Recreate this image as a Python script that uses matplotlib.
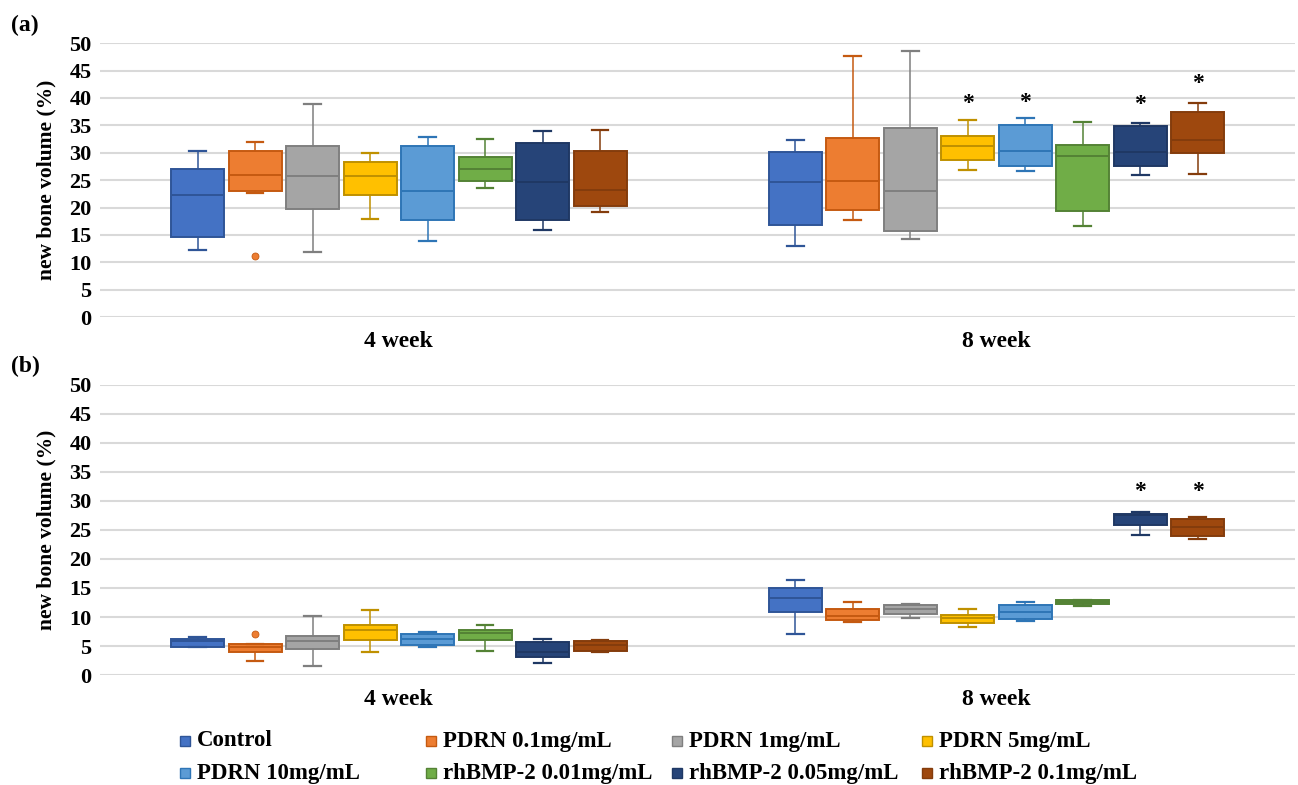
import matplotlib.pyplot as plt
from matplotlib.lines import Line2D

GROUPS = ["Control", "PDRN 0.1mg/mL", "PDRN 1mg/mL", "PDRN 5mg/mL",
          "PDRN 10mg/mL", "rhBMP-2 0.01mg/mL", "rhBMP-2 0.05mg/mL", "rhBMP-2 0.1mg/mL"]
WEEKS = ["4 week", "8 week"]

FACE = ["#4472C4", "#ED7D31", "#A5A5A5", "#FFC000",
        "#5B9BD5", "#70AD47", "#264478", "#9E480E"]
EDGE = ["#2F5597", "#C55A11", "#7F7F7F", "#BF9000",
        "#2E75B6", "#548235", "#1F3864", "#843C0C"]

# panel (a): rows = 4 week, 8 week
A_LOW = [[12.3, 22.6, 11.9, 18.0, 13.9, 23.5, 15.9, 19.1],
         [13.0, 17.7, 14.3, 26.8, 26.6, 16.7, 25.9, 26.1]]
A_Q1 = [[14.6, 23.0, 19.7, 22.2, 17.7, 24.8, 17.7, 20.2],
        [16.8, 19.5, 15.7, 28.6, 27.6, 19.3, 27.5, 29.9]]
A_MED = [[22.2, 26.0, 25.7, 25.7, 23.0, 27.0, 24.6, 23.2],
         [24.7, 24.8, 23.0, 31.3, 30.4, 29.5, 30.2, 32.4]]
A_Q3 = [[27.0, 30.4, 31.3, 28.4, 31.2, 29.3, 31.8, 30.4],
        [30.1, 32.7, 34.5, 33.0, 35.0, 31.5, 34.9, 37.4]]
A_HIGH = [[30.3, 32.0, 38.9, 29.9, 32.9, 32.6, 34.0, 34.1],
          [32.4, 47.7, 48.6, 36.0, 36.3, 35.7, 35.5, 39.0]]
A_FLIERS = [[[], [11.1], [], [], [], [], [], []],
            [[], [], [], [], [], [], [], []]]
A_STARS = [[None] * 8,
           [None, None, None, 39.0, 39.1, None, 38.8, 42.7]]

# panel (b)
B_LOW = [[4.9, 2.4, 1.6, 3.9, 4.8, 4.1, 2.1, 3.9],
         [7.0, 9.1, 9.9, 8.3, 9.3, 11.9, 24.1, 23.5]]
B_Q1 = [[4.9, 3.9, 4.5, 6.0, 5.1, 6.0, 3.1, 4.2],
        [10.8, 9.5, 10.6, 9.0, 9.7, 12.3, 25.9, 23.9]]
B_MED = [[5.8, 4.8, 5.9, 7.8, 6.3, 7.2, 3.9, 5.1],
         [13.3, 10.1, 11.4, 9.8, 10.9, 12.6, 27.6, 25.5]]
B_Q3 = [[6.3, 5.3, 6.8, 8.6, 7.0, 7.8, 5.7, 5.9],
        [15.0, 11.4, 12.1, 10.3, 12.1, 12.9, 27.8, 26.8]]
B_HIGH = [[6.5, 5.3, 10.1, 11.2, 7.5, 8.7, 6.3, 6.1],
          [16.3, 12.5, 12.2, 11.4, 12.5, 13.0, 28.0, 27.2]]
B_FLIERS = [[[], [7.1], [], [], [], [], [], []],
            [[], [], [], [], [], [], [], []]]
B_STARS = [[None] * 8,
           [None, None, None, None, None, None, 31.6, 31.6]]

plt.rcParams['font.family'] = ['Liberation Serif', 'DejaVu Serif']
plt.rcParams['font.weight'] = 'bold'

STEP = 0.0962
WIDTH = 0.0886


def draw_panel(ax, low, q1, med, q3, high, fliers, stars, tag):
    for w in range(len(WEEKS)):
        for g in range(len(GROUPS)):
            pos = w + (g - 3.5) * STEP
            stats = [dict(whislo=low[w][g], q1=q1[w][g], med=med[w][g],
                          q3=q3[w][g], whishi=high[w][g], fliers=fliers[w][g])]
            ax.bxp(stats, positions=[pos], widths=WIDTH, patch_artist=True,
                   showfliers=True, capwidths=0.028,
                   boxprops=dict(facecolor=FACE[g], edgecolor=EDGE[g], linewidth=1.4),
                   medianprops=dict(color=EDGE[g], linewidth=1.4),
                   whiskerprops=dict(color=EDGE[g], linewidth=1.1),
                   capprops=dict(color=EDGE[g], linewidth=1.6),
                   flierprops=dict(marker='o', markersize=5, markerfacecolor=FACE[g],
                                   markeredgecolor=EDGE[g], markeredgewidth=0.6))
            if stars[w][g] is not None:
                ax.text(pos, stars[w][g], "*", ha='center', va='center',
                        fontsize=17, fontweight='bold')

    ax.set_xlim(-0.5, 1.5)
    ax.set_ylim(0, 50)
    ax.set_yticks(range(0, 51, 5))
    ax.set_xticks(range(len(WEEKS)))
    ax.set_xticklabels(WEEKS, fontsize=17, fontweight='bold')
    ax.tick_params(axis='y', labelsize=16, length=0, pad=6)
    ax.tick_params(axis='x', length=0, pad=10)
    ax.yaxis.grid(True, color='#D9D9D9', linewidth=1.5)
    ax.set_axisbelow(True)
    for s in ax.spines.values():
        s.set_visible(False)
    ax.set_ylabel("new bone volume (%)", fontsize=15.5, fontweight='bold')
    ax.yaxis.set_label_coords(-0.036, 0.5)
    ax.text(-0.074, 1.025, tag, transform=ax.transAxes, fontsize=17,
            fontweight='bold', ha='left', va='bottom')


fig = plt.figure(figsize=(12.98, 7.85), dpi=100)
ax_a = fig.add_axes([0.077, 0.596, 0.921, 0.349])
ax_b = fig.add_axes([0.077, 0.140, 0.921, 0.370])

draw_panel(ax_a, A_LOW, A_Q1, A_MED, A_Q3, A_HIGH, A_FLIERS, A_STARS, "(a)")
draw_panel(ax_b, B_LOW, B_Q1, B_MED, B_Q3, B_HIGH, B_FLIERS, B_STARS, "(b)")

# legend: 2 rows x 4 columns, placed in figure pixels
col_x = [185, 431, 677, 927]
row_y = [741, 773]
W, H = 1298, 785
for k, name in enumerate(GROUPS):
    x = col_x[k % 4] / W
    y = 1 - row_y[k // 4] / H
    fig.add_artist(Line2D([x], [y], marker='s', markersize=7, linestyle='none',
                          markerfacecolor=FACE[k], markeredgecolor=EDGE[k],
                          transform=fig.transFigure))
    fig.text(x + 12 / W, y, name, fontsize=16.5, fontweight='bold',
             ha='left', va='center')

fig.savefig("out.png", dpi=100)
